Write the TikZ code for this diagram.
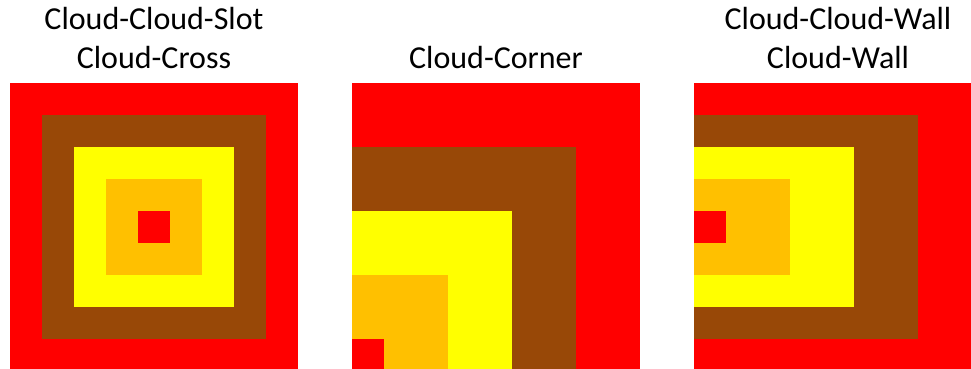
\documentclass[tikz,border=0pt]{standalone}
\usepackage{fontspec}
\setmainfont{Carlito}
\definecolor{cred}{HTML}{FF0000}
\definecolor{cbrown}{HTML}{984807}
\definecolor{cyellow}{HTML}{FFFF00}
\definecolor{corange}{HTML}{FFC000}
\tikzset{
  lbl/.style={anchor=base, inner sep=0pt, font=\fontsize{32}{38}\selectfont},
}
\begin{document}
\begin{tikzpicture}[x=1pt,y=-1pt]
\useasboundingbox (0,0) rectangle (971,369);
\clip (0,0) rectangle (971,369);
% left: Cloud-Cross
\fill[cred]    (10,83) rectangle (298,371);
\fill[cbrown]  (42,115) rectangle (266,339);
\fill[cyellow] (74,147) rectangle (234,307);
\fill[corange] (106,179) rectangle (202,275);
\fill[cred]    (138,211) rectangle (170,243);
% middle: Cloud-Corner
\fill[cred]    (352,83) rectangle (640,371);
\fill[cbrown]  (352,147) rectangle (576,371);
\fill[cyellow] (352,211) rectangle (512,371);
\fill[corange] (352,275) rectangle (448,371);
\fill[cred]    (352,339) rectangle (384,371);
% right: Cloud-Wall
\fill[cred]    (694,83) rectangle (982,371);
\fill[cbrown]  (694,115) rectangle (918,339);
\fill[cyellow] (694,147) rectangle (854,307);
\fill[corange] (694,179) rectangle (790,275);
\fill[cred]    (694,211) rectangle (726,243);
% labels
\node[lbl] (t1a) at (154,30) {Cloud-Cloud-Slot};
\node[lbl] (t1b) at (154,68) {Cloud-Cross};
\node[lbl] (t2)  at (496,68) {Cloud-Corner};
\node[lbl] (t3a) at (838,30) {Cloud-Cloud-Wall};
\node[lbl] (t3b) at (838,68) {Cloud-Wall};
\end{tikzpicture}
\end{document}
